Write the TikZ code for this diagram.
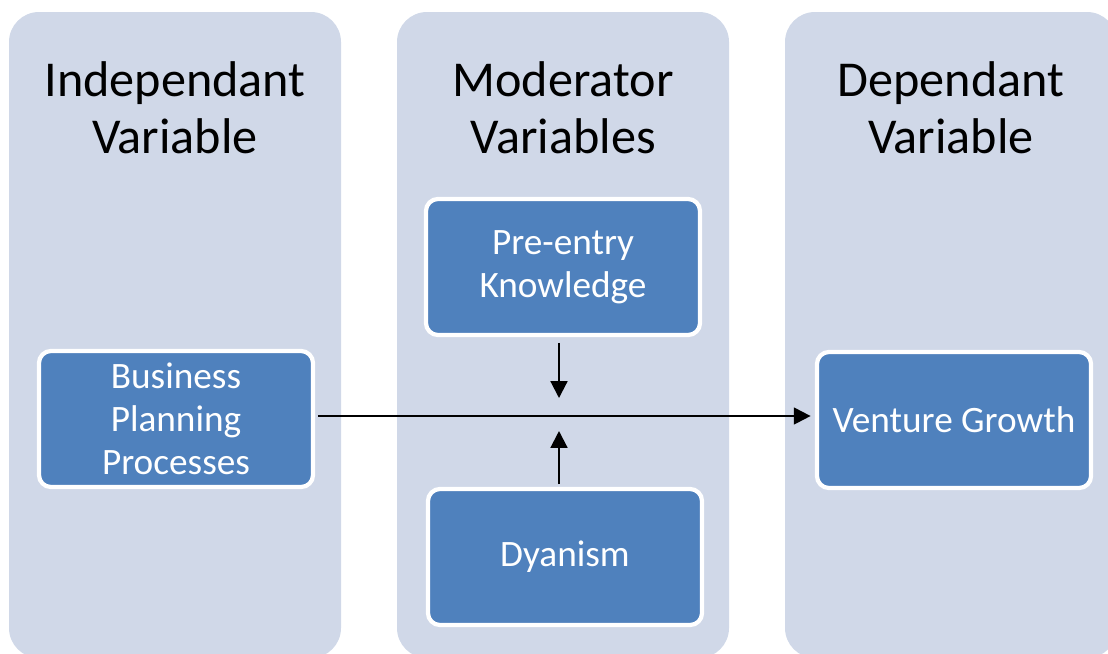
\documentclass[tikz,border=0pt]{standalone}
\usepackage{fontspec}
\setmainfont{Carlito}
\usetikzlibrary{arrows.meta}
\definecolor{lanegray}{HTML}{D0D8E8}
\definecolor{boxblue}{HTML}{4F81BD}

\begin{document}
\begin{tikzpicture}[x=0.025cm,y=-0.025cm,
    lane/.style={fill=lanegray,rounded corners=0.75cm},
    var/.style={draw=white,line width=3pt,fill=boxblue,rounded corners=0.3cm,
      minimum width=6.85cm,minimum height=3.4cm,text=white,align=center,
      font=\fontsize{26.5}{30.5}\selectfont},
    head/.style={align=center,font=\fontsize{35.7}{40.5}\selectfont},
    link/.style={line width=1.5pt,-{Triangle[width=12pt,length=12pt]}}]
    \useasboundingbox (0,0) rectangle (1108,653);
    % columns
    \begin{scope}
    \clip (0,0) rectangle (1108,653);
    \foreach \x in {9,397,785}
    \fill[lane] (\x,12) rectangle (\x+332,658);
    \end{scope}
    % headings
    \node[head] (indep) at (175,108) {Independant\\Variable};
    \node[head] (moder) at (563,108) {Moderator\\Variables};
    \node[head] (dep) at (951,108) {Dependant\\Variable};
    % variables
    \node[var] (biz) at (176,419) {Business\\Planning\\Processes};
    \node[var] (know) at (563,267) {Pre-entry\\Knowledge};
    \node[var] (dyn) at (565,557) {Dyanism};
    \node[var] (growth) at (954,420) {Venture Growth};
    \coordinate (hub) at (559,416);
    \coordinate (above) at (559,398);
    \coordinate (below) at (559,431);
    \draw[link,shorten <=2pt,shorten >=3pt] (biz.east |- hub) -- (growth.west |- hub);
    \draw[link,shorten <=4pt] (know.south -| hub) -- (above);
    \draw[link,shorten <=2pt] (dyn.north -| hub) -- (below);
\end{tikzpicture}
\end{document}
